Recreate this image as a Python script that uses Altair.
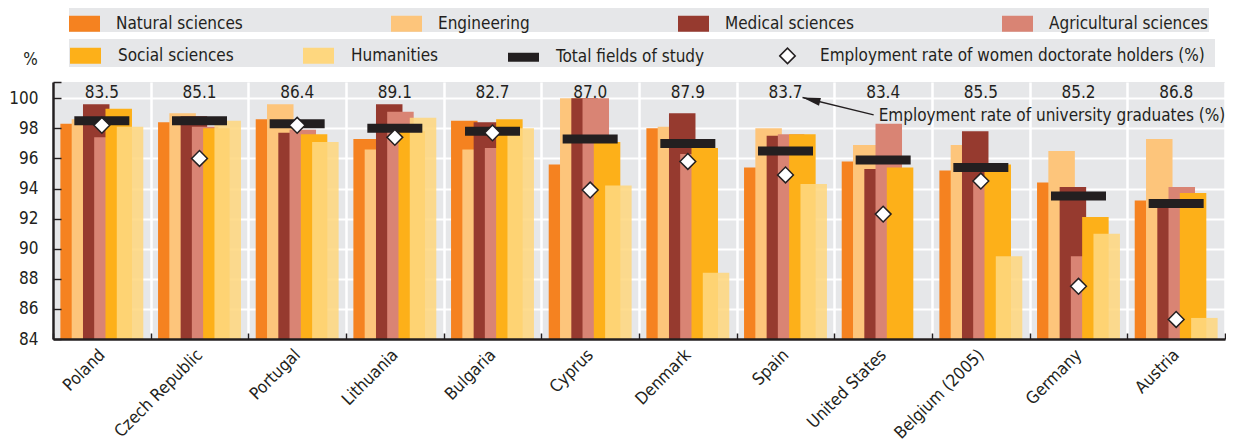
import altair as alt
import pandas as pd

countries = ["Poland", "Czech Republic", "Portugal", "Lithuania", "Bulgaria", "Cyprus",
             "Denmark", "Spain", "United States", "Belgium (2005)", "Germany", "Austria"]
natural = [98.3, 98.4, 98.6, 97.3, 98.5, 95.6, 98.0, 95.4, 95.8, 95.2, 94.4, 93.2]
engineering = [98.6, 99.0, 99.6, 96.6, 96.6, 100.0, 98.1, 98.0, 96.9, 96.9, 96.5, 97.3]
medical = [99.6, 98.8, 97.7, 99.6, 98.4, 100.0, 99.0, 97.5, 95.3, 97.8, 94.1, 92.9]
agricultural = [97.4, 98.1, 97.9, 99.1, 96.7, 100.0, 96.3, 97.6, 98.3, 94.6, 89.5, 94.1]
social = [99.3, 98.0, 97.6, 97.8, 98.6, 97.1, 96.7, 97.6, 95.4, 95.6, 92.1, 93.7]
humanities = [98.1, 98.5, 97.1, 98.7, 98.0, 94.2, 88.4, 94.3, None, 89.5, 91.0, 85.4]
total = [98.5, 98.5, 98.3, 98.0, 97.8, 97.3, 97.0, 96.5, 95.9, 95.4, 93.5, 93.0]
women_doctorate = [98.2, 96.0, 98.2, 97.4, 97.7, 93.9, 95.8, 94.9, 92.3, 94.5, 87.5, 85.3]
graduates = [83.5, 85.1, 86.4, 89.1, 82.7, 87.0, 87.9, 83.7, 83.4, 85.5, 85.2, 86.8]

fields = ["Natural sciences", "Engineering", "Medical sciences", "Agricultural sciences",
          "Social sciences", "Humanities"]
field_colors = ["#f58220", "#fdc57b", "#963a2f", "#d98474", "#fdb019", "#fed77f"]
TOTAL_LABEL = "Total fields of study"
WOMEN_LABEL = "Employment  rate  of women doctorate holders (%)"
GRAD_LABEL = "Employment rate of university graduates (%)"
y_ticks = [84, 86, 88, 90, 92, 94, 96, 98, 100]

DARK = "#231f20"
BG = "#e6e7e9"
FONT = "DejaVu Sans Condensed"
FS = 17
bar_offsets = [-28.2, -16.9, -5.6, 5.6, 16.9, 28.2]
RECT = "M-1,-0.516H1V0.516H-1Z"
THIN = "M-1,-0.29H1V0.29H-1Z"
DIAM = "M-0.5,0L0,-0.5L0.5,0L0,0.5Z"

series = [natural, engineering, medical, agricultural, social, humanities]
rows = []
for f, vals in zip(fields, series):
    for c, v in zip(countries, vals):
        if v is not None:
            rows.append({"country": c, "field": f, "value": v})
bars_df = pd.DataFrame(rows)
main_df = pd.DataFrame({"country": countries, "total": total, "women": women_doctorate,
                        "graduates": graduates, "field": TOTAL_LABEL})
annot_df = pd.DataFrame({"country": ["United States"], "text": [GRAD_LABEL]})
arrow_df = pd.DataFrame({"country": ["Spain"], "country2": ["United States"]})

YMAX = 101.08
yscale = alt.Scale(domain=[84, YMAX], nice=False, zero=False)
xscale = alt.Scale(paddingInner=0, paddingOuter=0)


def xenc(axis=None):
    return alt.X("country:N", sort=countries, scale=xscale, axis=axis, title=None)


def yenc(field, axis=None, title=None):
    return alt.Y(field, type="quantitative", scale=yscale, axis=axis, title=title)


legend1 = alt.Legend(orient="none", legendX=16, legendY=-74, direction="horizontal", title=None,
                     symbolType=RECT, symbolSize=961, symbolStrokeWidth=0,
                     labelFont=FONT, labelFontSize=FS, labelColor=DARK, labelOffset=16,
                     labelLimit=600, columnPadding=148, fillColor=BG, padding=0)
shape_expr = ("datum.value === '%s' ? '%s' : (datum.value === '%s' ? '%s' : '%s')"
              % (TOTAL_LABEL, THIN, WOMEN_LABEL, DIAM, RECT))
stroke_expr = "datum.value === '%s' ? '%s' : 'transparent'" % (WOMEN_LABEL, DARK)
legend2 = alt.Legend(orient="none", legendX=16, legendY=-43, direction="horizontal", title=None,
                     symbolType=alt.ExprRef(expr=shape_expr), symbolSize=961,
                     symbolStrokeColor=alt.ExprRef(expr=stroke_expr), symbolStrokeWidth=1.5,
                     labelFont=FONT, labelFontSize=FS, labelColor=DARK, labelOffset=16,
                     labelLimit=600, columnPadding=66, fillColor=BG, padding=0)

fill_enc = alt.Fill("field:N", scale=alt.Scale(domain=fields[:4], range=field_colors[:4]),
                    legend=legend1)
color_enc = alt.Color("field:N",
                      scale=alt.Scale(domain=[fields[4], fields[5], TOTAL_LABEL, WOMEN_LABEL],
                                      range=[field_colors[4], field_colors[5], DARK, "white"]),
                      legend=legend2)

# axes
x_main = alt.Axis(domain=False, ticks=False, labels=True, labelAngle=-45, labelAlign="right",
                  labelBaseline="middle", labelPadding=13, labelFont=FONT, labelFontSize=FS,
                  labelColor=DARK, grid=True, gridColor="white", gridWidth=2.5, tickBand="extent",
                  title=None, zindex=0, orient="bottom")
y_main = alt.Axis(values=y_ticks, domain=False, ticks=False, labelPadding=15, labelFont=FONT,
                  labelFontSize=FS, labelColor=DARK, grid=True, gridColor="white", gridWidth=2,
                  titleAngle=0, titleAlign="center", titleBaseline="middle", titleX=-23,
                  titleY=-23, titleFont=FONT, titleFontSize=FS, titleFontWeight="normal",
                  titleColor=DARK, zindex=0, orient="left")
x_ticks = alt.Axis(domain=False, labels=False, ticks=True, tickSize=6, tickWidth=1.5,
                   tickColor=DARK, tickBand="extent", offset=-6, grid=False, title=None,
                   zindex=1, orient="bottom")
y_tick_axis = alt.Axis(values=y_ticks + [YMAX], domain=False, labels=False, ticks=True,
                       tickSize=8, tickWidth=1.5, tickColor=DARK, offset=-8, grid=False,
                       title=None, zindex=1, orient="left")
x_dom = alt.Axis(domain=True, domainColor=DARK, domainWidth=2.5, labels=False, ticks=False,
                 grid=False, title=None, zindex=1, orient="bottom")
y_dom = alt.Axis(domain=True, domainColor=DARK, domainWidth=2.5, labels=False, ticks=False,
                 grid=False, title=None, zindex=1, orient="left")

axis_sets = [(x_main, y_main, "%"), (x_ticks, y_tick_axis, None), (x_dom, y_dom, None)]

layers = []
for i, f in enumerate(fields):
    xa, ya, yt = axis_sets[i] if i < 3 else (None, None, None)
    enc = dict(x=xenc(xa), y=yenc("value", ya, yt), y2=alt.Y2Datum(84))
    if i < 4:
        enc["fill"] = fill_enc
    else:
        enc["color"] = color_enc
    layers.append(
        alt.Chart(bars_df).transform_filter(alt.datum.field == f)
        .mark_bar(size=26.5, xOffset=bar_offsets[i], opacity=0.88 if i == 5 else 1)
        .encode(**enc)
    )

total_layer = alt.Chart(main_df).mark_tick(size=55, thickness=9, opacity=1).encode(
    x=xenc(), y=yenc("total"), color=color_enc)
diamond_layer = alt.Chart(main_df).mark_point(
    shape="diamond", filled=True, fill="white", stroke=DARK, strokeWidth=1.5, size=250, opacity=1
).encode(x=xenc(), y=yenc("women"))
grad_text = alt.Chart(main_df).mark_text(font=FONT, fontSize=FS, color=DARK, baseline="middle").encode(
    x=xenc(), y=alt.YDatum(100.35, scale=yscale, axis=None), text=alt.Text("graduates:Q", format=".1f"))
annot_text = alt.Chart(annot_df).mark_text(font=FONT, fontSize=FS, color=DARK, align="left",
                                           baseline="middle", dx=-4.5).encode(
    x=xenc(), y=alt.YDatum(98.85, scale=yscale, axis=None), text="text:N")
arrow_line = alt.Chart(arrow_df).mark_rule(color=DARK, strokeWidth=1.3, xOffset=17, x2Offset=-9.5).encode(
    x=xenc(), x2="country2:N", y=alt.YDatum(100.05, scale=yscale, axis=None), y2=alt.Y2Datum(98.9))
arrow_head = alt.Chart(arrow_df).mark_point(shape="M0,0L2,-0.45L2,0.45Z", filled=True, color=DARK,
                                            size=324, angle=14, xOffset=17, opacity=1).encode(
    x=xenc(), y=alt.YDatum(100.05, scale=yscale, axis=None))

chart = alt.layer(*layers, total_layer, diamond_layer, grad_text, annot_text, arrow_line, arrow_head
                  ).resolve_axis(x="independent", y="independent").properties(
    width=1172, height=257, padding=0
).configure(font=FONT).configure_view(fill=BG, stroke=None)

chart.save("out.html", embed_options={"renderer": "svg", "actions": False})
